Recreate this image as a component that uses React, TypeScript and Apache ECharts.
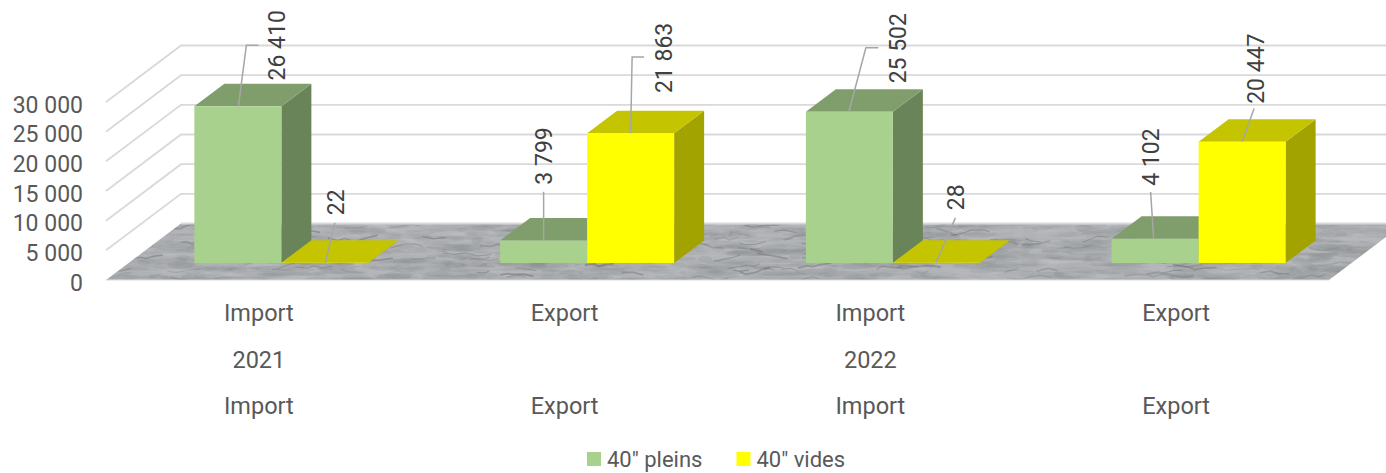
import React, { useEffect, useRef } from "react";
import * as echarts from "echarts";

const flowLabels = ["Import", "Export", "Import", "Export"];
const yearLabels = ["2021", "", "2022", ""];
const pleinsValues = [26410, 3799, 25502, 4102];
const videsValues = [22, 21863, 28, 20447];
const yTicks = [0, 5000, 10000, 15000, 20000, 25000, 30000];

// leader line and label placement, relative to the top-left front corner of each bar:
// [startDx, elbowDx, elbowDy, endDx, textDx, textDy]
const pleinsLabelLayout = [
  [44, 52, -61, 64, 83.5, -61],
  [43.5, 43.5, -48.7, 43.5, 44.5, -84.5],
  [43, 60, -64, 72.5, 92.5, -63.5],
  [42, 39, -46.6, 39, 40, -81.6],
];
const videsLabelLayout = [
  [44, 53.5, -40, 53.5, 55.5, -60.5],
  [43.5, 45, -76.2, 57, 77, -75.4],
  [43, 62.5, -45, 62.5, 63.5, -65.5],
  [43.5, 55.5, -33.3, 55.5, 57.5, -73],
];

const FONT = "Roboto";
const FULL_DX = 75;
const FULL_DY = -56.5;
const BAR_DX = 22.5;
const BAR_DY = -17;
const TOP_DX = 30;
const TOP_DY = -22.5;
const BAR_RATIO = 87 / 305.75;

function formatNumber(v: number) {
  return String(v).replace(/\B(?=(\d{3})+$)/g, " ");
}

function makeMarble(): string {
  const W = 1400;
  const H = 300;
  const c = document.createElement("canvas");
  c.width = W;
  c.height = H;
  const g = c.getContext("2d") as CanvasRenderingContext2D;
  let seed = 12345;
  const rnd = () => {
    seed = (seed * 1103515245 + 12345) & 0x7fffffff;
    return seed / 0x7fffffff;
  };
  g.fillStyle = "#afb1b4";
  g.fillRect(0, 0, W, H);
  for (let i = 0; i < 2600; i++) {
    const x = rnd() * W;
    const y = 218 + rnd() * 68;
    const light = rnd() > 0.5;
    g.fillStyle = light ? "rgba(200,201,203,0.14)" : "rgba(130,132,136,0.15)";
    g.beginPath();
    g.ellipse(x, y, 5 + rnd() * 22, 1 + rnd() * 3, 0, 0, Math.PI * 2);
    g.fill();
  }
  g.lineCap = "round";
  for (let i = 0; i < 170; i++) {
    let x = rnd() * W;
    let y = 224 + rnd() * 56;
    g.strokeStyle = `rgba(105,107,112,${0.15 + rnd() * 0.35})`;
    g.lineWidth = 0.8 + rnd() * 1.2;
    g.beginPath();
    g.moveTo(x, y);
    const steps = 2 + Math.floor(rnd() * 3);
    for (let s = 0; s < steps; s++) {
      x += 4 + rnd() * 9;
      y += (rnd() - 0.5) * 6;
      g.lineTo(x, y);
    }
    g.stroke();
  }
  return c.toDataURL("image/png");
}

function stageRenderItem(marble: string) {
  return (params: any, api: any) => {
    const tick = api.value(1);
    const [, y] = api.coord([0, tick]);
    const sys = params.coordSys;
    const left = sys.x;
    const right = sys.x + sys.width;
    const line = { stroke: "#d9d9d9", lineWidth: 1.8, fill: "none" };
    if (tick === 0) {
      return {
        type: "group",
        children: [
          {
            type: "polygon",
            shape: {
              points: [
                [left, y],
                [right, y],
                [right + FULL_DX, y + FULL_DY],
                [left + FULL_DX, y + FULL_DY],
              ],
            },
            style: {
              fill: { image: marble, repeat: "repeat", imageWidth: 1400, imageHeight: 300 },
            },
          },
          { type: "line", shape: { x1: left + FULL_DX, y1: y + FULL_DY, x2: right + FULL_DX, y2: y + FULL_DY }, style: line },
          { type: "line", shape: { x1: left, y1: y, x2: right, y2: y }, style: { ...line, lineWidth: 1 } },
        ],
      };
    }
    return {
      type: "polyline",
      shape: {
        points: [
          [left, y],
          [left + FULL_DX, y + FULL_DY],
          [right + FULL_DX, y + FULL_DY],
        ],
      },
      style: line,
    };
  };
}

function barRenderItem(
  shift: number,
  colors: { front: string; top: string; side: string },
  layout: number[][]
) {
  return (params: any, api: any) => {
    const idx = api.value(0);
    const val = api.value(1);
    const [cx, y0] = api.coord([idx, 0]);
    const [, yv] = api.coord([idx, val]);
    const w = api.size([1, 0])[0] * BAR_RATIO;
    const x1 = cx + BAR_DX + (shift - 1) * w;
    const x2 = x1 + w;
    const bottom = y0 + BAR_DY;
    const top = yv + BAR_DY;
    const l = layout[idx];
    const pts = [
      [x1 + l[0], top],
      [x1 + l[1], top + l[2]],
      [x1 + l[3], top + l[2]],
    ];
    return {
      type: "group",
      children: [
        {
          type: "polygon",
          shape: { points: [[x2, bottom], [x2 + TOP_DX, bottom + TOP_DY], [x2 + TOP_DX, top + TOP_DY], [x2, top]] },
          style: { fill: colors.side },
        },
        {
          type: "polygon",
          shape: { points: [[x1, top], [x2, top], [x2 + TOP_DX, top + TOP_DY], [x1 + TOP_DX, top + TOP_DY]] },
          style: { fill: colors.top },
        },
        { type: "rect", shape: { x: x1, y: top, width: w, height: bottom - top }, style: { fill: colors.front } },
        { type: "polyline", shape: { points: pts }, style: { stroke: "#a6a6a6", lineWidth: 1.5, fill: "none" } },
        {
          type: "text",
          x: x1 + l[4],
          y: top + l[5],
          rotation: Math.PI / 2,
          style: {
            text: formatNumber(val),
            fill: "#404040",
            font: `23px ${FONT}`,
            align: "center",
            verticalAlign: "middle",
          },
        },
      ],
    };
  };
}

export default function App() {
  const ref = useRef<HTMLDivElement>(null);
  useEffect(() => {
    const chart = echarts.init(ref.current as HTMLDivElement, undefined, { renderer: "svg" });
    const marble = makeMarble();
    chart.setOption({
      animation: false,
      backgroundColor: "#ffffff",
      textStyle: { fontFamily: FONT },
      grid: { left: 106, right: 57, top: 102, bottom: 193 },
      legend: {
        data: ['40" pleins', '40" vides'],
        left: 582,
        top: 443,
        icon: "rect",
        itemWidth: 14,
        itemHeight: 14,
        itemGap: 34,
        textStyle: { color: "#595959", fontSize: 22, fontFamily: FONT, padding: [0, 0, 0, 1] },
      },
      xAxis: {
        type: "category",
        data: flowLabels,
        axisLine: { show: false },
        axisTick: { show: false },
        axisLabel: {
          interval: 0,
          margin: 10,
          color: "#595959",
          fontSize: 23.5,
          fontFamily: FONT,
          lineHeight: 46.5,
          formatter: (_: string, i: number) => `${flowLabels[i]}\n${yearLabels[i] || " "}\n${flowLabels[i]}`,
        },
      },
      yAxis: {
        type: "value",
        min: 0,
        max: 30000,
        interval: 5000,
        axisLine: { show: false },
        axisTick: { show: false },
        splitLine: { show: false },
        axisLabel: {
          margin: 23,
          color: "#595959",
          fontSize: 23,
          fontFamily: FONT,
          formatter: (v: number) => `{v|${formatNumber(v)}}`,
          rich: {
            v: { color: "#595959", fontSize: 23, fontFamily: FONT, padding: [6, 0, 0, 0] },
          },
        },
      },
      series: [
        {
          type: "custom",
          name: "stage",
          silent: true,
          renderItem: stageRenderItem(marble),
          encode: { x: 0, y: 1 },
          data: yTicks.map((t) => [0, t]),
        },
        {
          type: "custom",
          name: '40" pleins',
          itemStyle: { color: "#a9d18e" },
          renderItem: barRenderItem(0, { front: "#a9d18e", top: "#7f9e6b", side: "#6a845a" }, pleinsLabelLayout),
          encode: { x: 0, y: 1 },
          data: pleinsValues.map((v, i) => [i, v]),
        },
        {
          type: "custom",
          name: '40" vides',
          itemStyle: { color: "#ffff00" },
          renderItem: barRenderItem(1, { front: "#ffff00", top: "#c4c400", side: "#a3a300" }, videsLabelLayout),
          encode: { x: 0, y: 1 },
          data: videsValues.map((v, i) => [i, v]),
        },
      ],
    });
    return () => chart.dispose();
  }, []);
  return <div ref={ref} style={{ position: "absolute", left: 0, top: 0, width: 1386, height: 473 }} />;
}
